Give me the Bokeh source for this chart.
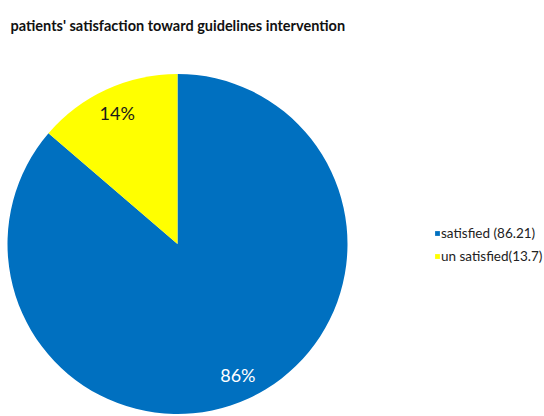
import math
from bokeh.plotting import figure
from bokeh.models import ColumnDataSource, Range1d, Label
from bokeh.core.properties import value
from bokeh.embed import file_html
from bokeh.resources import INLINE

title_text = "patients' satisfaction toward guidelines intervention"
categories = ["satisfied", "un satisfied"]
values = [86.21, 13.7]
legend_labels = ["satisfied (86.21)", "un satisfied(13.7)"]
colors = ["#0070C0", "#FFFF00"]
label_colors = ["#FFFFFF", "#1A1A1A"]

total = sum(values)
fracs = [v / total for v in values]

# slices drawn anticlockwise from 12 o'clock, last category first
starts = [0.0] * len(values)
ends = [0.0] * len(values)
a = math.pi / 2
for i in reversed(range(len(values))):
    starts[i] = a
    a += fracs[i] * 2 * math.pi
    ends[i] = a

W, H = 544, 416
cx, cy, r = 177, 172.5, 170
mids = [(s + e) / 2 for s, e in zip(starts, ends)]
lx = [cx + 0.85 * r * math.cos(m) for m in mids]
ly = [cy + 0.85 * r * math.sin(m) for m in mids]
pct = ["%d%%" % round(f * 100) for f in fracs]

src = ColumnDataSource(dict(
    cat=categories, leg=legend_labels, start=starts, end=ends, color=colors,
    x=[cx] * len(values), y=[cy] * len(values),
))
lsrc = ColumnDataSource(dict(x=lx, y=ly, t=pct, c=label_colors))

p = figure(width=W, height=H, output_backend="svg", toolbar_location=None,
           x_range=Range1d(0, W), y_range=Range1d(0, H), min_border=0)
p.axis.visible = False
p.grid.visible = False
p.outline_line_color = None

p.wedge(x="x", y="y", radius=r, start_angle="start", end_angle="end",
        fill_color="color", line_color=None, source=src, legend_field="leg")

p.text(x="x", y="y", text="t", text_color="c", source=lsrc,
       text_align="center", text_baseline="middle",
       text_font=value("Lato"), text_font_size="18px")

p.add_layout(Label(x=10, y=391.5, text=title_text, text_font="Lato",
                   text_font_style="bold", text_font_size="14.5px",
                   text_color="#111111", text_baseline="alphabetic"))

lg = p.legend[0]
lg.location = (434, 150.5)
lg.padding = 0
lg.margin = 0
lg.spacing = 3
lg.border_line_alpha = 0
lg.background_fill_alpha = 0
lg.glyph_width = 6
lg.glyph_height = 6
lg.label_height = 20
lg.label_standoff = 1
lg.label_text_font = "Lato"
lg.label_text_font_size = "13.5px"
lg.label_text_color = "#222222"

open("out.html", "w").write(file_html(p, INLINE))
